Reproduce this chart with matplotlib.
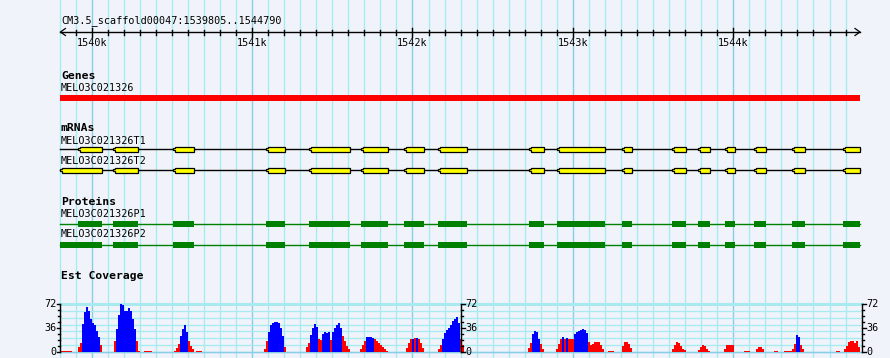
import matplotlib
matplotlib.use("Agg")
import matplotlib.pyplot as plt
from matplotlib.patches import Polygon, Rectangle

# region shown
view_start = 1539805
view_end = 1544790
title = "CM3.5_scaffold00047:1539805..1544790"

gene_name = "MELO3C021326"
mrna_names = ["MELO3C021326T1", "MELO3C021326T2"]
protein_names = ["MELO3C021326P1", "MELO3C021326P2"]

# exon / CDS coordinates (bp); T2/P2 first exon starts at the view start
exon_starts = [1539915, 1540136, 1540510, 1541084, 1541352, 1541676, 1541950, 1542162, 1542729,
               1542898, 1543309, 1543621, 1543783, 1543950, 1544132, 1544369, 1544687]
exon_ends = [1540062, 1540287, 1540636, 1541203, 1541610, 1541845, 1542070, 1542337, 1542820,
             1543203, 1543368, 1543705, 1543855, 1544010, 1544204, 1544447, 1544790]
t2_first_start = 1539805

# EST coverage: each run starts at a bp position, one value per bin, colour per bin (r/b)
cov_bin = 12.5
cov_starts = [1539805, 1539915, 1540139, 1540326, 1540513, 1540650, 1541074, 1541336,
              1541673, 1541959, 1542159, 1542720, 1542895, 1543219, 1543306, 1543618,
              1543780, 1543942, 1544067, 1544141, 1544254, 1544316, 1544640, 1544690]
cov_values = [
    [2, 2, 2, 2, 2, 2],
    [7, 13, 42, 60, 68, 62, 50, 44, 40, 32, 22, 10],
    [17, 35, 55, 72, 70, 62, 62, 66, 62, 50, 35, 16, 2],
    [2, 2, 2, 2],
    [2, 6, 12, 24, 35, 40, 30, 16, 9, 4],
    [2, 2, 2],
    [4, 16, 30, 40, 44, 45, 45, 44, 36, 24, 8],
    [7, 13, 26, 36, 42, 38, 19, 18, 27, 30, 29, 30, 18, 30, 36, 41, 43, 36, 24, 16, 9, 4],
    [5, 11, 17, 22, 23, 22, 21, 19, 17, 14, 11, 7, 4, 2],
    [6, 14, 20, 20, 21, 21, 20, 13, 6],
    [5, 11, 20, 28, 33, 36, 41, 46, 50, 52, 44, 20, 10],
    [6, 14, 27, 32, 30, 20, 12, 5],
    [5, 12, 19, 22, 20, 21, 20, 20, 20, 27, 30, 31, 33, 35, 33, 28, 15, 10, 12, 15, 15, 15, 10, 5],
    [2, 2, 2],
    [9, 15, 15, 12, 6],
    [4, 10, 15, 14, 9, 5, 3],
    [3, 7, 11, 9, 5, 2],
    [5, 10, 10, 10, 10],
    [2, 2, 2],
    [5, 8, 8, 4],
    [2, 2],
    [2, 2, 2, 2, 5, 12, 26, 22, 11, 4],
    [2, 2],
    [4, 9, 15, 17, 16, 13, 16, 8],
]
cov_colors = [
    "rrrrrr",
    "rrbbbbbbbbbr",
    "rbbbbbbbbbbrr",
    "rrrr",
    "rrrbbbbrrr",
    "rrr",
    "rrbbbbbbbbr",
    "rrbbbbrrbbbbrbbbbbrrrr",
    "rrrbbbbrrrrrrr",
    "rrrbrbrrr",
    "rrbbbbbbbbbrr",
    "rrbbbbrr",
    "rrrbrbrrrbbbbbbbrrrrrrrr",
    "rrr",
    "rrrrr",
    "rrrrrrr",
    "rrrrrr",
    "rrrrr",
    "rrr",
    "rrrr",
    "rr",
    "rrrrrrbbrr",
    "rr",
    "rrrrrrrr",
]
cov_max = 72

# ---- layout (pixels) ----
W, H = 890, 358
plot_l, plot_r = 60.4, 860.0
bpp = (view_end - view_start) / (plot_r - plot_l)
xmin = view_start - plot_l * bpp
xmax = xmin + W * bpp
px = bpp  # one pixel in bp

bg = "#f0f4fa"
grid_minor = "#a8eaf0"
grid_major = "#88cce6"
mono = "DejaVu Sans Mono"

fig = plt.figure(figsize=(W / 100, H / 100), dpi=100, facecolor=bg)
ax = fig.add_axes([0, 0, 1, 1])
ax.set_xlim(xmin, xmax)
ax.set_ylim(H, 0)
ax.axis("off")
ax.set_facecolor(bg)

# vertical grid every 100 bp
for pos in range(1539800, 1544800, 100):
    col = grid_major if pos % 1000 == 0 else grid_minor
    ax.plot([pos, pos], [0, H], color=col, lw=1.0, zorder=0)

# ruler
ax.text(view_start + 0.5 * px, 21, title, fontsize=7.3, family=mono, va="center", ha="left")
ax.plot([view_start, view_end], [32, 32], color="black", lw=1.0)
ax.plot([view_start + 5 * px, view_start, view_start + 5 * px], [28.5, 32, 35.5], color="black", lw=0.9)
ax.plot([view_end - 5 * px, view_end, view_end - 5 * px], [28.5, 32, 35.5], color="black", lw=0.9)
for pos in range(1539900, 1544800, 100):
    if pos % 1000 == 0:
        ax.plot([pos, pos], [28, 36.5], color="black", lw=1.0)
        ax.text(pos, 42.5, f"{pos // 1000}k", fontsize=7.3, family=mono, ha="center", va="center")
    else:
        ax.plot([pos, pos], [29.5, 34.5], color="black", lw=1.0)

# track labels
def label(y, s, bold=False):
    ax.text(view_start + 0.5 * px, y, s, fontsize=8.2 if bold else 7.3, family=mono,
            fontweight="bold" if bold else "normal", va="center", ha="left")

label(76, "Genes", True)
label(88, gene_name)
ax.add_patch(Rectangle((view_start, 95), view_end - view_start, 6, color="#ff0000", lw=0))

label(128, "mRNAs", True)
for k, (name, y_lab, y) in enumerate(zip(mrna_names, [141, 161], [149.3, 170.3])):
    label(y_lab, name)
    ax.plot([view_start, view_end], [y, y], color="black", lw=1.0, zorder=2)
    for i, (s, e) in enumerate(zip(exon_starts, exon_ends)):
        if k == 1 and i == 0:
            s = t2_first_start
        n = 2 * px
        verts = [(s, y - 1), (s + n, y - 1), (s + n, y - 2.4), (e, y - 2.4), (e, y + 2.4),
                 (s + n, y + 2.4), (s + n, y + 1), (s, y + 1)]
        ax.add_patch(Polygon(verts, closed=True, facecolor="#ffff00", edgecolor="black",
                             lw=0.9, zorder=3))

label(202, "Proteins", True)
for k, (name, y_lab, y) in enumerate(zip(protein_names, [214, 234], [223.7, 244.7])):
    label(y_lab, name)
    ax.plot([view_start, view_end], [y, y], color="#008000", lw=1.0, zorder=2)
    for i, (s, e) in enumerate(zip(exon_starts, exon_ends)):
        if k == 1 and i == 0:
            s = t2_first_start
        ax.add_patch(Rectangle((s, y - 3), e - s, 6, facecolor="#008000", lw=0, zorder=3))

label(276, "Est Coverage", True)

# coverage panel
cov_top, cov_bot = 304, 352
cax = fig.add_axes([0, 1 - cov_bot / H, 1, (cov_bot - cov_top) / H])
cax.set_xlim(xmin, xmax)
cax.set_ylim(0, cov_max)
cax.axis("off")
cax.patch.set_alpha(0)

gx0, gx1 = view_start, view_end + 2 * px
for j in range(8):
    v = cov_max * j / 7
    cax.plot([gx0, gx1], [v, v], color=grid_minor, lw=2.2 if j == 7 else 1.0, zorder=0,
             clip_on=False)
cax.plot([gx0, gx1], [0, 0], color=grid_major, lw=1.0, zorder=0, clip_on=False)

for s, vals, cols in zip(cov_starts, cov_values, cov_colors):
    xs = [s + i * cov_bin for i in range(len(vals))]
    colors = ["#0000ff" if c == "b" else "#ff0000" for c in cols]
    cax.bar(xs, vals, width=cov_bin, align="edge", color=colors, lw=0, zorder=2)

# scales: left, middle, right
unit = cov_max / (cov_bot - cov_top)
for xpos, side in [(view_start, "left"), (view_start + 400.6 * px, "right"), (view_end + 2 * px, "right")]:
    cax.plot([xpos, xpos], [0, cov_max], color="black", lw=1.0, clip_on=False, zorder=4)
    d = -1 if side == "left" else 1
    for v in range(0, cov_max + 1, 9):
        ln = 3.5 if v % 36 == 0 else 2
        cax.plot([xpos, xpos + d * ln * px], [v, v], color="black", lw=1.0, clip_on=False, zorder=4)
    for v in (0, 36, 72):
        cax.text(xpos + d * 4 * px, v, str(v), fontsize=7.3, family=mono,
                 ha="right" if side == "left" else "left", va="center", clip_on=False)

fig.savefig("out.png", dpi=100, facecolor=bg)
